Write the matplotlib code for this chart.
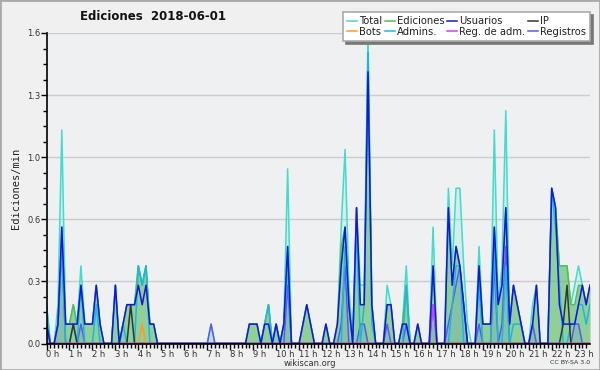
import matplotlib
matplotlib.use('Agg')
import matplotlib.pyplot as plt
import numpy as np
from matplotlib.lines import Line2D
from matplotlib.patches import Rectangle
from matplotlib.transforms import ScaledTranslation

# counts per 10-minute bin, 0h00 .. 23h40
total = [2, 0, 0, 2, 11, 1, 1, 2, 1, 4, 1, 1,
         1, 3, 1, 0, 0, 0, 3, 0, 1, 2, 2, 2,
         4, 3, 4, 1, 1, 0, 0, 0, 0, 0, 0, 0,
         0, 0, 0, 0, 0, 0, 0, 1, 0, 0, 0, 0,
         0, 0, 0, 0, 0, 1, 1, 1, 0, 1, 2, 0,
         1, 0, 1, 9, 0, 0, 0, 1, 2, 1, 0, 0,
         0, 1, 0, 0, 1, 6, 10, 3, 0, 7, 3, 3,
         16, 2, 0, 0, 0, 3, 2, 0, 0, 1, 4, 0,
         0, 1, 0, 0, 0, 6, 0, 0, 0, 8, 4, 8,
         8, 4, 1, 0, 0, 5, 1, 1, 1, 11, 2, 4,
         12, 1, 3, 2, 1, 0, 0, 2, 3, 0, 0, 0,
         8, 7, 4, 4, 4, 2, 3, 4, 3, 2, 3]
ediciones = [1, 0, 0, 1, 6, 1, 1, 2, 1, 3, 1, 1,
             1, 3, 1, 0, 0, 0, 3, 0, 1, 2, 2, 2,
             4, 3, 4, 1, 1, 0, 0, 0, 0, 0, 0, 0,
             0, 0, 0, 0, 0, 0, 0, 0, 0, 0, 0, 0,
             0, 0, 0, 0, 0, 1, 1, 1, 0, 1, 2, 0,
             1, 0, 1, 5, 0, 0, 0, 1, 2, 1, 0, 0,
             0, 1, 0, 0, 1, 5, 6, 2, 0, 7, 2, 2,
             15, 2, 0, 0, 0, 2, 2, 0, 0, 1, 3, 0,
             0, 1, 0, 0, 0, 4, 0, 0, 0, 7, 3, 5,
             4, 2, 0, 0, 0, 4, 1, 1, 1, 6, 2, 3,
             7, 1, 3, 2, 1, 0, 0, 1, 3, 0, 0, 0,
             8, 7, 4, 4, 4, 2, 2, 3, 3, 2, 3]
usuarios = [1, 0, 0, 1, 6, 1, 1, 1, 1, 3, 1, 1,
            1, 3, 1, 0, 0, 0, 3, 0, 1, 2, 2, 2,
            3, 2, 3, 1, 1, 0, 0, 0, 0, 0, 0, 0,
            0, 0, 0, 0, 0, 0, 0, 0, 0, 0, 0, 0,
            0, 0, 0, 0, 0, 1, 1, 1, 0, 1, 1, 0,
            1, 0, 1, 5, 0, 0, 0, 1, 2, 1, 0, 0,
            0, 1, 0, 0, 1, 4, 6, 2, 0, 7, 2, 2,
            14, 2, 0, 0, 0, 2, 2, 0, 0, 1, 1, 0,
            0, 1, 0, 0, 0, 4, 0, 0, 0, 7, 3, 5,
            4, 2, 0, 0, 0, 4, 1, 1, 1, 6, 2, 3,
            7, 1, 3, 2, 1, 0, 0, 1, 3, 0, 0, 0,
            8, 7, 2, 1, 1, 1, 1, 2, 3, 2, 3]
ip = [0, 0, 0, 0, 0, 0, 0, 1, 0, 0, 0, 0,
      0, 0, 0, 0, 0, 0, 0, 0, 0, 0, 2, 0,
      0, 0, 0, 0, 0, 0, 0, 0, 0, 0, 0, 0,
      0, 0, 0, 0, 0, 0, 0, 0, 0, 0, 0, 0,
      0, 0, 0, 0, 0, 0, 0, 0, 0, 0, 0, 0,
      0, 0, 0, 0, 0, 0, 0, 0, 0, 0, 0, 0,
      0, 0, 0, 0, 0, 0, 0, 0, 0, 0, 0, 0,
      0, 0, 0, 0, 0, 0, 0, 0, 0, 0, 0, 0,
      0, 0, 0, 0, 0, 0, 0, 0, 0, 0, 0, 0,
      0, 0, 0, 0, 0, 0, 0, 0, 0, 0, 0, 0,
      0, 0, 0, 0, 0, 0, 0, 0, 0, 0, 0, 0,
      0, 0, 0, 1, 3, 0, 0, 0, 0, 0, 0]
admins = [2, 0, 0, 1, 5, 0, 0, 1, 0, 3, 0, 0,
          0, 2, 0, 0, 0, 0, 3, 0, 1, 0, 0, 0,
          4, 3, 4, 0, 0, 0, 0, 0, 0, 0, 0, 0,
          0, 0, 0, 0, 0, 0, 0, 0, 0, 0, 0, 0,
          0, 0, 0, 0, 0, 0, 0, 0, 0, 1, 2, 0,
          1, 0, 1, 4, 0, 0, 0, 0, 0, 0, 0, 0,
          0, 0, 0, 0, 0, 0, 5, 2, 0, 6, 0, 2,
          15, 1, 0, 0, 0, 0, 0, 0, 0, 0, 3, 0,
          0, 0, 0, 0, 0, 0, 0, 0, 0, 0, 2, 4,
          4, 0, 0, 0, 0, 3, 0, 0, 0, 5, 0, 0,
          4, 0, 1, 1, 1, 0, 0, 0, 0, 0, 0, 0,
          8, 6, 3, 0, 0, 1, 1, 2, 2, 1, 2]
registros = [1, 0, 0, 1, 5, 0, 0, 0, 0, 1, 0, 0,
             0, 0, 0, 0, 0, 0, 0, 0, 0, 0, 0, 0,
             0, 0, 0, 0, 0, 0, 0, 0, 0, 0, 0, 0,
             0, 0, 0, 0, 0, 0, 0, 1, 0, 0, 0, 0,
             0, 0, 0, 0, 0, 0, 0, 0, 0, 0, 0, 0,
             0, 0, 0, 3, 0, 0, 0, 0, 0, 0, 0, 0,
             0, 0, 0, 0, 0, 1, 4, 0, 0, 0, 1, 1,
             0, 0, 0, 0, 0, 1, 0, 0, 0, 0, 1, 0,
             0, 0, 0, 0, 0, 2, 0, 0, 0, 1, 2, 3,
             4, 2, 0, 0, 0, 1, 0, 0, 0, 4, 0, 1,
             5, 0, 0, 0, 0, 0, 0, 1, 0, 0, 0, 0,
             0, 0, 0, 0, 0, 0, 1, 1, 0, 0, 0]
bots = [0] * 143
bots[25] = 1
reg_adm = [0] * 143
reg_adm[101] = 2

bin_minutes = 10
hours = np.arange(len(total)) / 6.0

def rate(v):
    return np.array(v) / bin_minutes

fig = plt.figure(figsize=(6, 3.7), dpi=100, facecolor='#f0f0f0')
ax = fig.add_axes([46.5/600, 26.5/370, 543.5/600, 310.5/370])
ax.set_facecolor('#eef0f2')

# areas
ax.fill_between(hours, rate(total), color='#40e0d0', alpha=0.15, lw=0)
ax.fill_between(hours, rate(ediciones), color='#6cbf6c', alpha=0.65, lw=0)
ax.fill_between(hours, rate(registros), color='#4060ff', alpha=0.12, lw=0)

series = [
    ('Total', total, '#40dccc'),
    ('Ediciones', ediciones, '#55bb55'),
    ('Registros', registros, '#5a5af0'),
    ('Admins.', admins, '#1ab8e0'),
    ('IP', ip, '#333333'),
    ('Bots', bots, '#ff9a2a'),
    ('Reg. de adm.', reg_adm, '#cc44ee'),
    ('Usuarios', usuarios, '#1515e0'),
]
colors = {}
for name, vals, col in series:
    ax.plot(hours, rate(vals), color=col, lw=1.1)
    colors[name] = col

ax.set_xlim(0, 142/6)
ax.set_ylim(0, 1.6)

y_ticks = [0, 0.32, 0.64, 0.96, 1.28, 1.6]
ax.set_yticks(y_ticks)
ax.set_yticklabels(['%.1f' % t for t in y_ticks])
ax.set_yticks([k * 0.08 for k in range(21)], minor=True)
ax.set_xticks(range(24))
ax.set_xticklabels(['%d h' % h for h in range(24)])
ax.set_xticks(np.arange(0, 142) / 6.0, minor=True)
for lbl in ax.get_xticklabels():
    lbl.set_ha('left')
    lbl.set_transform(lbl.get_transform() + ScaledTranslation(-7/100, 0, fig.dpi_scale_trans))

ax.tick_params(axis='both', which='major', labelsize=6, length=4, width=1, color='black', labelcolor='#333333', pad=0.5)
ax.tick_params(axis='both', which='minor', length=3, width=1, color='black')
ax.grid(axis='y', which='major', color='#cccccc', lw=1)
ax.set_axisbelow(True)
for s in ['top', 'right']:
    ax.spines[s].set_visible(False)
for s in ['left', 'bottom']:
    ax.spines[s].set_linewidth(1.2)

ax.set_ylabel('Ediciones/min', family='DejaVu Sans Mono', fontsize=7.5, color='#222222', labelpad=4)

fig.text(153/600, 1 - 16/370, 'Ediciones  2018-06-01', ha='center', va='center',
         fontsize=8.5, fontweight='bold', color='#111111')
fig.text(310/600, 1 - 363/370, 'wikiscan.org', ha='center', va='center', fontsize=6, color='#333333')
fig.text(590/600, 1 - 363/370, 'CC BY-SA 3.0', ha='right', va='center', fontsize=4.5, color='#333333')

order = ['Total', 'Bots', 'Ediciones', 'Admins.', 'Usuarios', 'Reg. de adm.', 'IP', 'Registros']
handles = [Line2D([], [], color=colors[n], lw=1.1) for n in order]
leg = fig.legend(handles, order, loc='upper right', bbox_to_anchor=(590/600, 1 - 12/370),
                 ncol=4, fontsize=7.2, frameon=True, fancybox=False, framealpha=1,
                 shadow={'color': '#777777', 'alpha': 1}, handlelength=1.0,
                 handletextpad=0.25, columnspacing=0.2, labelspacing=0.08, borderpad=0.4,
                 borderaxespad=0)
leg.get_frame().set_edgecolor('#aaaaaa')
leg.get_frame().set_linewidth(1.2)
for t in leg.get_texts():
    t.set_color('#222222')

fig.patches.append(Rectangle((0, 0), 1, 1, transform=fig.transFigure, fill=False,
                             edgecolor='#aaaaaa', lw=2))

fig.savefig('out.png', dpi=100, facecolor=fig.get_facecolor())
